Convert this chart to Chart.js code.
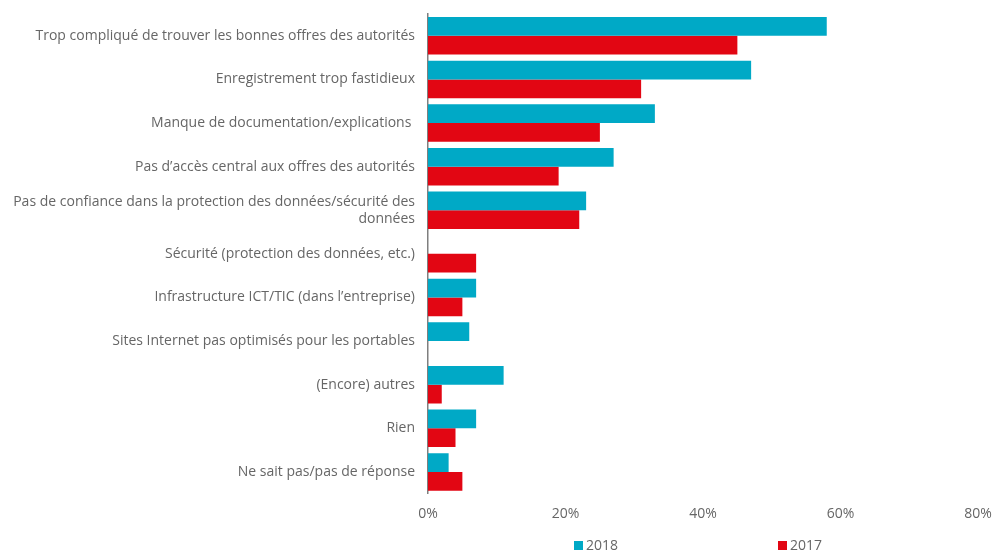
<!DOCTYPE html>
<html>
<head>
<meta charset="utf-8">
<script src="https://cdn.jsdelivr.net/npm/chart.js@4/dist/chart.umd.min.js"></script>
<style>
  html, body { margin: 0; padding: 0; background: #fff; }
  #wrap { position: relative; width: 1000px; height: 553px; }
  #legend { position: absolute; top: 536px; left: 0; width: 1000px; height: 18px;
    font-family: 'Open Sans', sans-serif; font-size: 14px; color: #666; }
  .item { position: absolute; top: 0; line-height: 18px; }
  .box { display: inline-block; width: 9px; height: 9px; margin-right: 3px; vertical-align: 0px; }
</style>
</head>
<body>
<div id="wrap">
  <canvas id="chart" width="1000" height="553"></canvas>
  <div id="legend"></div>
</div>
<script>
// categories (top to bottom)
const categories = [
  'Trop compliqué de trouver les bonnes offres des autorités',
  'Enregistrement trop fastidieux',
  'Manque de documentation/explications ',
  'Pas d’accès central aux offres des autorités',
  ['Pas de confiance dans la protection des données/sécurité des', 'données'],
  'Sécurité (protection des données, etc.)',
  'Infrastructure ICT/TIC (dans l’entreprise)',
  'Sites Internet pas optimisés pour les portables',
  '(Encore) autres',
  'Rien',
  'Ne sait pas/pas de réponse'
];

// values in %
const values2018 = [58, 47, 33, 27, 23, null, 7, 6, 11, 7, 3];
const values2017 = [45, 31, 25, 19, 22, 7, 5, null, 2, 4, 5];

const xTicks = [0, 20, 40, 60, 80];
const seriesNames = ['2018', '2017'];
const seriesColors = ['#00a9c6', '#e20613'];

const textColor = '#666666';
const fontFamily = "'Open Sans', sans-serif";

const data = {
  labels: categories,
  datasets: [
    { label: seriesNames[0], data: values2018, backgroundColor: seriesColors[0],
      categoryPercentage: 0.86, barPercentage: 1 },
    { label: seriesNames[1], data: values2017, backgroundColor: seriesColors[1],
      categoryPercentage: 0.86, barPercentage: 1 }
  ]
};

const config = {
  type: 'bar',
  data,
  options: {
    indexAxis: 'y',
    responsive: false,
    animation: false,
    layout: { padding: { top: 14, right: 22, bottom: 18.5, left: 0 } },
    plugins: {
      legend: { display: false },
      tooltip: { enabled: false }
    },
    scales: {
      x: {
        min: 0,
        max: 80,
        afterBuildTicks: (scale) => { scale.ticks = xTicks.map(v => ({ value: v })); },
        afterFit: (scale) => {
          scale.paddingLeft = 0;
          scale.paddingRight = 0;
        },
        grid: { display: false, drawTicks: false },
        border: { display: false },
        ticks: {
          color: textColor,
          padding: 12,
          font: { family: fontFamily, size: 14 },
          callback: (v) => v + '%'
        }
      },
      y: {
        grid: { display: false, drawTicks: false },
        border: { display: true, color: '#7f7f7f', width: 1.5 },
        afterFit: (scale) => {
          scale.width = 428;
          scale.paddingTop = 0;
          scale.paddingBottom = 0;
        },
        ticks: {
          color: textColor,
          padding: 13,
          font: { family: fontFamily, size: 14 }
        }
      }
    }
  }
};

const myChart = new Chart(document.getElementById('chart'), config);

// legend spread out like the original
const legendPos = [574, 778];
const legend = document.getElementById('legend');
seriesNames.forEach((name, i) => {
  const item = document.createElement('div');
  item.className = 'item';
  item.style.left = legendPos[i] + 'px';
  item.innerHTML = '<span class="box" style="background:' + seriesColors[i] + '"></span>' + name;
  legend.appendChild(item);
});
</script>
</body>
</html>
